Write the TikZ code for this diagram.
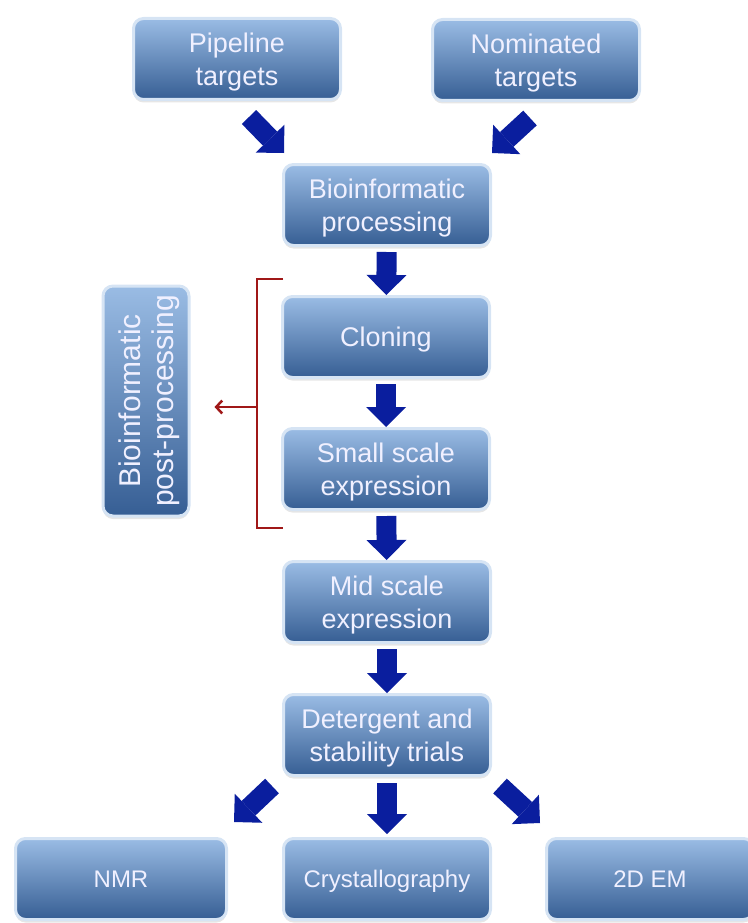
\documentclass[tikz,border=0pt]{standalone}
\usepackage{fontspec}
\setmainfont{Liberation Sans}
\usetikzlibrary{arrows.meta,calc,shadows}

\definecolor{boxtop}{RGB}{154,188,228}
\definecolor{boxbot}{RGB}{54,94,148}
\definecolor{boxrim}{RGB}{214,228,244}
\definecolor{arrowblue}{RGB}{10,30,158}
\definecolor{bracketred}{RGB}{160,24,24}

\begin{document}
\begin{tikzpicture}[x=1pt, y=-1pt,
    stage/.style={rounded corners=10pt, top color=boxtop, bottom color=boxbot,
        draw=boxrim, line width=3pt, text=white!94!blue, align=center,
        font=\fontsize{27}{33}\selectfont, text depth=-10pt,
        minimum width=207pt, minimum height=81pt,
        drop shadow={opacity=0.2, shadow xshift=0pt, shadow yshift=-3pt}},
    endstage/.style={stage, font=\fontsize{24}{30}\selectfont, text depth=-5pt},
    flow/.style={draw=arrowblue, line width=20pt,
        -{Triangle[width=40pt, length=20pt, line width=0pt]}},
    bracket/.style={draw=bracketred, line width=2.5pt}]
    \useasboundingbox (0,0) rectangle (747,923);

    % Nodes
    \node[stage] (pipe) at (237,59) {Pipeline\\targets};
    \node[stage] (nom) at (536,60) {Nominated\\targets};
    \node[stage] (bio) at (387,205) {Bioinformatic\\processing};
    \node[stage] (clone) at (386,337) {Cloning};
    \node[stage] (small) at (386,469) {Small scale\\expression};
    \node[stage] (mid) at (387,602) {Mid scale\\expression};
    \node[stage] (det) at (387,735) {Detergent and\\stability trials};
    \node[endstage, minimum width=211pt] (nmr) at (121,879) {NMR};
    \node[endstage] (cryst) at (387,879) {Crystallography};
    \node[endstage] (em) at (650,879) {2D EM};
    \node[stage, rotate=90, minimum width=230pt, minimum height=86pt,
        font=\fontsize{30}{33}\selectfont] (side) at (146,401)
        {Bioinformatic\\post-processing};

    % Lines
    \draw[flow] ($(pipe.south)+(12,16)$) -- ($(bio.north west)+(2,-10)$);
    \draw[flow] ($(nom.south)+(-6,16)$) -- ($(bio.north east)+(0,-10)$);
    \draw[flow, shorten <=5pt] (bio) -- (clone);
    \draw[flow, shorten <=5pt] (clone) -- (small);
    \draw[flow, shorten <=5pt] (small) -- (mid);
    \draw[flow, shorten <=5pt] (mid) -- (det);
    \draw[flow] ($(det.south west)+(-10,9)$) -- ($(nmr.north east)+(6,-15)$);
    \draw[flow, shorten <=6pt, shorten >=3pt] (det) -- (cryst);
    \draw[flow] ($(det.south east)+(8,9)$) -- ($(em.north west)+(-5,-14)$);

    % Bracket
    \coordinate (btop) at (283,279);
    \coordinate (bbot) at (283,528);
    \coordinate (bmid) at (257,407);
    \draw[bracket] (btop) -| (bbot -| bmid) -- (bbot);
    \draw[bracket, -{Straight Barb[length=6pt, width=13pt]}, shorten >=24pt]
        (bmid) -- (bmid -| side.south);

\end{tikzpicture}
\end{document}
